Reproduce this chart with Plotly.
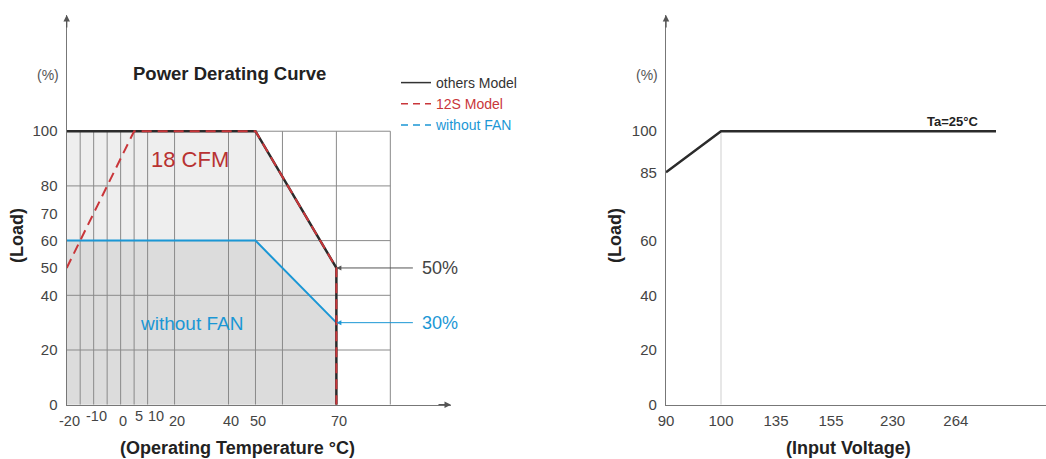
import numpy as np
import plotly.graph_objects as go

# ---------------- data ----------------
temp_others = [-20, 50, 70, 70]
load_others = [100, 100, 50, 0]
temp_12s = [-20, 5, 50, 70, 70]
load_12s = [50, 100, 100, 50, 0]
temp_nofan = [-20, 50, 70]
load_nofan = [60, 60, 30]

temp_tick_vals = [-20, -10, 0, 5, 10, 20, 40, 50, 70]
temp_tick_raised = [False, True, False, True, True, False, False, False, False]
temp_grid = [-15, -10, -5, 0, 5, 10, 20, 40, 50, 60, 70, 80]
load_grid = [20, 40, 60, 80, 100]
load_ticks_left = [0, 20, 40, 50, 60, 70, 80, 100]

volt = [90, 100, 300]
load_volt = [85, 100, 100]
volt_ticks = [90, 100, 135, 155, 230, 264]
load_ticks_right = [0, 20, 40, 60, 85, 100]

# ------------- schematic (piecewise) axis scales of the original drawing -------------
TEMP_BREAKS = [-20, 60, 70, 80]
TEMP_POS = [0, 16, 20, 24]
VOLT_BREAKS = [90, 100, 135, 155, 230, 264, 300]
VOLT_POS = [0, 1, 2, 3, 4.12, 5.27, 6]
# small horizontal nudges of crowded tick labels (px)
LABEL_NUDGE = {5: 2, 10: 5.5}


def tx(t):
    return np.interp(np.asarray(t, dtype=float), TEMP_BREAKS, TEMP_POS).tolist()


def vx(v):
    return np.interp(np.asarray(v, dtype=float), VOLT_BREAKS, VOLT_POS).tolist()


W, H = 1046, 459
FONT = "Liberation Sans, Arial, sans-serif"
BLACK = "#2b2b2b"
RED = "#c9363a"
BLUE = "#1b97d5"
GREY_TXT = "#444444"

fig = go.Figure()

# fills
fig.add_trace(go.Scatter(x=tx(temp_others), y=load_others, mode="none", fill="tozeroy",
                         fillcolor="#eeeeee", showlegend=False, hoverinfo="skip",
                         xaxis="x", yaxis="y"))
fig.add_trace(go.Scatter(x=tx(temp_nofan + [70]), y=load_nofan + [0], mode="none", fill="tozeroy",
                         fillcolor="#dcdcdc", showlegend=False, hoverinfo="skip",
                         xaxis="x", yaxis="y"))

# grid
gx, gy = [], []
for t in temp_grid:
    p = tx(t)
    gx += [p, p, None]
    gy += [0, 100, None]
for l in load_grid:
    gx += [tx(-20), tx(80), None]
    gy += [l, l, None]
fig.add_trace(go.Scatter(x=gx, y=gy, mode="lines", line=dict(color="#8a8a8a", width=1),
                         showlegend=False, hoverinfo="skip", xaxis="x", yaxis="y"))

# curves
fig.add_trace(go.Scatter(x=tx(temp_nofan), y=load_nofan, mode="lines",
                         line=dict(color=BLUE, width=2), showlegend=False, xaxis="x", yaxis="y"))
fig.add_trace(go.Scatter(x=tx(temp_others), y=load_others, mode="lines",
                         line=dict(color=BLACK, width=2.5), showlegend=False, xaxis="x", yaxis="y"))
fig.add_trace(go.Scatter(x=tx(temp_12s), y=load_12s, mode="lines",
                         line=dict(color=RED, width=2, dash="10px,6px"), showlegend=False,
                         xaxis="x", yaxis="y"))

# legend entries
fig.add_trace(go.Scatter(x=[None], y=[None], mode="lines", line=dict(color="#333333", width=1.5),
                         name="<span style='color:#333333'>others Model</span>", xaxis="x", yaxis="y"))
fig.add_trace(go.Scatter(x=[None], y=[None], mode="lines", line=dict(color=RED, width=1.5, dash="7px,5px"),
                         name=f"<span style='color:{RED}'>12S Model</span>", xaxis="x", yaxis="y"))
fig.add_trace(go.Scatter(x=[None], y=[None], mode="lines", line=dict(color=BLUE, width=1.5, dash="7px,5px"),
                         name=f"<span style='color:{BLUE}'>without FAN</span>", xaxis="x", yaxis="y"))

# right chart
fig.add_trace(go.Scatter(x=vx([100, 100]), y=[0, 100], mode="lines", line=dict(color="#cfcfcf", width=1),
                         showlegend=False, hoverinfo="skip", xaxis="x2", yaxis="y2"))
fig.add_trace(go.Scatter(x=vx(volt), y=load_volt, mode="lines", line=dict(color=BLACK, width=2.5),
                         showlegend=False, xaxis="x2", yaxis="y2"))

ydom = [(H - 404.7) / H, (H - 15) / H]
axis_common = dict(showgrid=False, zeroline=False, showline=True, linecolor="#777777", linewidth=1.3,
                   ticks="", fixedrange=True, automargin=False)

fig.update_layout(
    template="none",
    width=W, height=H,
    margin=dict(l=0, r=0, t=0, b=0, pad=0),
    paper_bgcolor="white", plot_bgcolor="rgba(0,0,0,0)",
    font=dict(family=FONT, color=GREY_TXT),
    xaxis=dict(domain=[66.7 / W, 451 / W], range=[0, 28.5], anchor="y", showticklabels=False, **axis_common),
    yaxis=dict(domain=ydom, range=[0, 142.5], anchor="x", tickvals=load_ticks_left,
               ticktext=[str(v) for v in load_ticks_left], tickfont=dict(size=15, color=GREY_TXT),
               ticklabelstandoff=5, **axis_common),
    xaxis2=dict(domain=[666 / W, 1.0], range=[0, 380 / 55], anchor="y2", tickvals=vx(volt_ticks),
                ticktext=[str(v) for v in volt_ticks], tickfont=dict(size=15, color=GREY_TXT),
                ticklabelstandoff=2, **axis_common),
    yaxis2=dict(domain=ydom, range=[0, 142.5], anchor="x2", tickvals=load_ticks_right,
                ticktext=[str(v) for v in load_ticks_right], tickfont=dict(size=15, color=GREY_TXT),
                ticklabelstandoff=5, **axis_common),
    legend=dict(x=396 / W, y=(H - 67) / H, xanchor="left", yanchor="top", bgcolor="rgba(0,0,0,0)",
                font=dict(size=14, family=FONT), tracegroupgap=0, borderwidth=0),
    showlegend=True,
)

ann = []
# left x tick labels (staggered as in the original)
for t, raised in zip(temp_tick_vals, temp_tick_raised):
    ann.append(dict(x=tx(t), y=0, xref="x", yref="y", text=str(t), showarrow=False,
                    xanchor="center", yanchor="top", xshift=2.5 + LABEL_NUDGE.get(t, 0),
                    yshift=-1 if raised else -6, font=dict(size=14.5, color=GREY_TXT)))

bold = dict(size=18, color="#222222", family=FONT)


def txt(xp, yp, text, font, **kw):
    d = dict(x=xp / W, y=(H - yp) / H, xref="paper", yref="paper", text=text, showarrow=False,
             xanchor="center", yanchor="middle", font=font)
    d.update(kw)
    return d


ann += [
    txt(229, 73, "<b>Power Derating Curve</b>", dict(size=18.5, color="#222222", family=FONT)),
    txt(48, 75, "(%)", dict(size=14, color="#555555")),
    txt(647, 75, "(%)", dict(size=14, color="#555555")),
    txt(17, 236, "<b>(Load)</b>", bold, textangle=-90),
    txt(615, 236, "<b>(Load)</b>", bold, textangle=-90),
    txt(237, 448, "<b>(Operating Temperature °C)</b>", bold),
    txt(848, 448, "<b>(Input Voltage)</b>", bold),
    dict(x=tx(20), y=89.5, xref="x", yref="y", text="18 CFM", showarrow=False, xshift=15,
         xanchor="center", yanchor="middle", font=dict(size=22, color="#b83232")),
    dict(x=tx(20), y=29.8, xref="x", yref="y", text="without FAN", showarrow=False, xshift=17,
         xanchor="center", yanchor="middle", font=dict(size=19, color=BLUE)),
    # 50% / 30% pointers
    dict(x=tx(70), y=50, xref="x", yref="y", ax=78, ay=0, text="", showarrow=True, arrowhead=2,
         arrowsize=1, arrowwidth=1, arrowcolor="#555555"),
    dict(x=tx(70), y=30, xref="x", yref="y", ax=78, ay=0, text="", showarrow=True, arrowhead=2,
         arrowsize=1, arrowwidth=1, arrowcolor=BLUE),
    dict(x=tx(70), y=50, xref="x", yref="y", text="50%", showarrow=False, xanchor="left",
         yanchor="middle", xshift=84, font=dict(size=18, color=GREY_TXT)),
    dict(x=tx(70), y=30, xref="x", yref="y", text="30%", showarrow=False, xanchor="left",
         yanchor="middle", xshift=84, font=dict(size=18, color=BLUE)),
    dict(x=vx(264), y=100, xref="x2", yref="y2", text="<b>Ta=25°C</b>", showarrow=False,
         xanchor="center", yanchor="bottom", xshift=-3, font=dict(size=13, color="#222222")),
    # axis arrowheads
    dict(x=0, y=142.5, xref="x", yref="y", ax=0, ay=14, text="", showarrow=True, arrowhead=2,
         arrowsize=1, arrowwidth=1.3, arrowcolor="#555555"),
    dict(x=28.5, y=0, xref="x", yref="y", ax=-14, ay=0, text="", showarrow=True, arrowhead=2,
         arrowsize=1, arrowwidth=1.3, arrowcolor="#555555"),
    dict(x=0, y=142.5, xref="x2", yref="y2", ax=0, ay=14, text="", showarrow=True, arrowhead=2,
         arrowsize=1, arrowwidth=1.3, arrowcolor="#555555"),
]
fig.update_layout(annotations=ann)

# remove the browser's default 8px page margin so the 1046x459 figure fills the window
fig.write_html("out.html", config={"displayModeBar": False},
               post_script="document.body.style.margin='0';")
